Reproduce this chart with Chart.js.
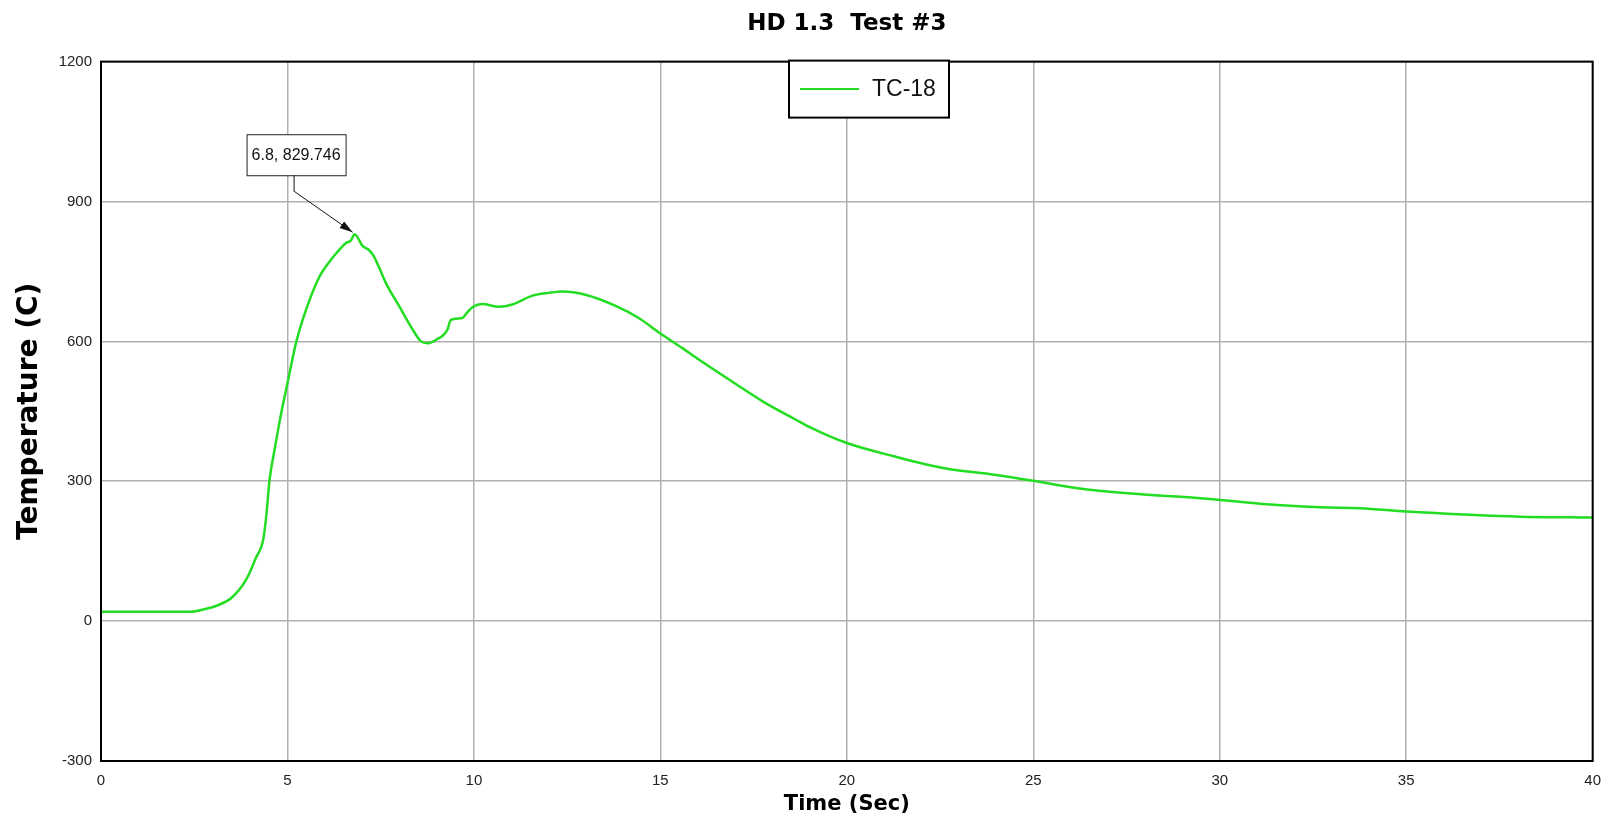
<!DOCTYPE html>
<html>
<head>
<meta charset="utf-8">
<script src="https://cdn.jsdelivr.net/npm/chart.js@4/dist/chart.umd.min.js"></script>
<style>
  html, body { margin: 0; padding: 0; background: #ffffff; }
  #wrap { width: 1612px; height: 825px; position: relative; }
</style>
</head>
<body>
<div id="wrap"><canvas id="c"></canvas></div>
<script>
// ---- data ----
const chartTitle = "HD 1.3  Test #3";
const seriesName = "TC-18";
const xTitle = "Time (Sec)";
const yTitle = "Temperature (C)";
const xTicks = [0, 5, 10, 15, 20, 25, 30, 35, 40];
const yTicks = [-300, 0, 300, 600, 900, 1200];

const timeSec = [
  0, 1, 2, 2.4, 2.8, 3.1, 3.5, 3.9, 4.15, 4.35, 4.43, 4.52, 4.66, 4.83, 5.0,
  5.24, 5.5, 5.86, 6.1, 6.31, 6.57, 6.7, 6.8, 7.02, 7.15, 7.29, 7.45, 7.64,
  8.0, 8.36, 8.58, 8.76, 8.98, 9.29, 9.38, 9.69, 9.8, 9.96, 10.23, 10.67, 11.03,
  11.57, 12.0, 12.37, 12.99, 13.8, 14.42, 14.96, 15.58, 16.03, 16.92, 17.81,
  18.61, 19.06, 20, 21.29, 22.62, 23.96, 25, 26.19, 27.53, 29.4, 30, 31.55,
  32.7, 33.77, 35, 36.71, 38.05, 40
];
const tempC = [
  20, 20, 20, 20, 26, 33, 50, 90, 135, 175, 224, 303, 370, 445, 510,
  600, 668, 739, 768, 789, 811, 816, 829.746, 804, 798, 786, 760, 725,
  675, 625, 600, 596, 603, 625, 646, 650, 660, 673, 680, 674, 679,
  698, 704, 707, 700, 676, 650, 619, 586, 561, 514, 468,
  433, 414, 382, 353, 328, 314, 301, 285, 274, 264, 260, 249,
  244, 242, 235, 228, 224, 222
];

const points = timeSec.map((t, i) => ({ x: t, y: tempC[i] }));

// ---- plugins ----
const frameBorder = {
  id: 'frameBorder',
  afterDatasetsDraw(chart) {
    const { ctx, chartArea: a } = chart;
    ctx.save();
    ctx.strokeStyle = '#000';
    ctx.lineWidth = 2;
    ctx.strokeRect(a.left, a.top, a.right - a.left, a.bottom - a.top);
    ctx.restore();
  }
};

const boxLegend = {
  id: 'boxLegend',
  afterDraw(chart, args, opts) {
    const { ctx, chartArea: a } = chart;
    const ds = chart.data.datasets[0];
    const x = a.left + opts.offsetX, y = a.top + opts.offsetY;
    ctx.save();
    ctx.fillStyle = '#fff';
    ctx.fillRect(x, y, opts.w, opts.h);
    ctx.strokeStyle = '#000';
    ctx.lineWidth = 2;
    ctx.strokeRect(x, y, opts.w, opts.h);
    ctx.strokeStyle = ds.borderColor;
    ctx.lineWidth = 2;
    ctx.beginPath();
    ctx.moveTo(x + 11, y + opts.h / 2);
    ctx.lineTo(x + 70, y + opts.h / 2);
    ctx.stroke();
    ctx.fillStyle = '#111';
    ctx.font = opts.font;
    ctx.textBaseline = 'middle';
    ctx.textAlign = 'left';
    ctx.fillText(ds.label, x + 83, y + opts.h / 2 + 1);
    ctx.restore();
  }
};

const peakCallout = {
  id: 'peakCallout',
  afterDraw(chart, args, opts) {
    const { ctx } = chart;
    let pi = 0;
    tempC.forEach((v, i) => { if (v > tempC[pi]) pi = i; });
    const px = chart.scales.x.getPixelForValue(timeSec[pi]);
    const py = chart.scales.y.getPixelForValue(tempC[pi]);
    const label = timeSec[pi] + ', ' + tempC[pi];
    const bx = px - 108, by = py - 100, bw = 99, bh = 41;
    ctx.save();
    ctx.fillStyle = '#fff';
    ctx.fillRect(bx, by, bw, bh);
    ctx.strokeStyle = '#222';
    ctx.lineWidth = 1;
    ctx.strokeRect(bx + 0.5, by + 0.5, bw, bh);
    ctx.fillStyle = '#111';
    ctx.font = opts.font;
    ctx.textAlign = 'center';
    ctx.textBaseline = 'middle';
    ctx.fillText(label, bx + bw / 2, by + bh / 2 + 1);
    // leader
    const lx = px - 61, ly1 = by + bh, ly2 = py - 43;
    const tx = px - 2, ty = py - 2;
    ctx.strokeStyle = '#111';
    ctx.lineWidth = 1;
    ctx.beginPath();
    ctx.moveTo(lx + 0.5, ly1);
    ctx.lineTo(lx + 0.5, ly2);
    ctx.lineTo(tx, ty);
    ctx.stroke();
    const ang = Math.atan2(ty - ly2, tx - lx);
    const L = 13, W = 4;
    ctx.fillStyle = '#111';
    ctx.beginPath();
    ctx.moveTo(tx, ty);
    ctx.lineTo(tx - L * Math.cos(ang) + W * Math.sin(ang), ty - L * Math.sin(ang) - W * Math.cos(ang));
    ctx.lineTo(tx - L * Math.cos(ang) - W * Math.sin(ang), ty - L * Math.sin(ang) + W * Math.cos(ang));
    ctx.closePath();
    ctx.fill();
    ctx.restore();
  }
};

// ---- chart ----
new Chart(document.getElementById('c'), {
  type: 'line',
  data: {
    datasets: [{
      label: seriesName,
      data: points,
      borderColor: '#22dd22',
      borderWidth: 2.5,
      pointRadius: 0,
      fill: false,
      cubicInterpolationMode: 'monotone'
    }]
  },
  options: {
    responsive: true,
    maintainAspectRatio: false,
    animation: false,
    events: [],
    layout: { padding: { left: 0, right: 16, top: 0, bottom: 0 } },
    plugins: {
      legend: { display: false },
      tooltip: { enabled: false },
      title: {
        display: true,
        text: chartTitle,
        fullSize: false,
        color: '#000',
        font: { family: 'DejaVu Sans', size: 23, weight: 'bold', lineHeight: 1.2 },
        padding: { top: 10, bottom: 24 }
      },
      boxLegend: { offsetX: 688, offsetY: -1, w: 160, h: 57, font: '23px "Liberation Sans", Arial, sans-serif' },
      peakCallout: { font: '16px "Liberation Sans", Arial, sans-serif' }
    },
    scales: {
      x: {
        type: 'linear',
        min: 0, max: 40,
        afterBuildTicks(scale) { scale.ticks = xTicks.map(v => ({ value: v })); },
        afterFit(scale) { scale.height = 64; },
        grid: { color: '#b0b0b0', lineWidth: 1.5, drawTicks: false },
        border: { display: false },
        ticks: {
          padding: 11,
          color: '#222',
          font: { family: 'Liberation Sans', size: 15 },
          maxRotation: 0,
          callback: (v) => String(v)
        },
        title: {
          display: true,
          text: xTitle,
          color: '#000',
          font: { family: 'DejaVu Sans', size: 21, weight: 'bold', lineHeight: 1.2 },
          padding: { top: 0, bottom: 8 }
        }
      },
      y: {
        type: 'linear',
        min: -300, max: 1200,
        afterBuildTicks(scale) { scale.ticks = yTicks.map(v => ({ value: v })); },
        afterFit(scale) { scale.width = 101; },
        grid: { color: '#b0b0b0', lineWidth: 1.5, drawTicks: false },
        border: { display: false },
        ticks: {
          padding: 9,
          color: '#222',
          font: { family: 'Liberation Sans', size: 15 },
          callback: (v) => String(v)
        },
        title: {
          display: true,
          text: yTitle,
          color: '#000',
          font: { family: 'DejaVu Sans', size: 28, weight: 'bold', lineHeight: 1.2 },
          padding: { top: 13, bottom: 0 }
        }
      }
    }
  },
  plugins: [frameBorder, boxLegend, peakCallout]
});
</script>
</body>
</html>
